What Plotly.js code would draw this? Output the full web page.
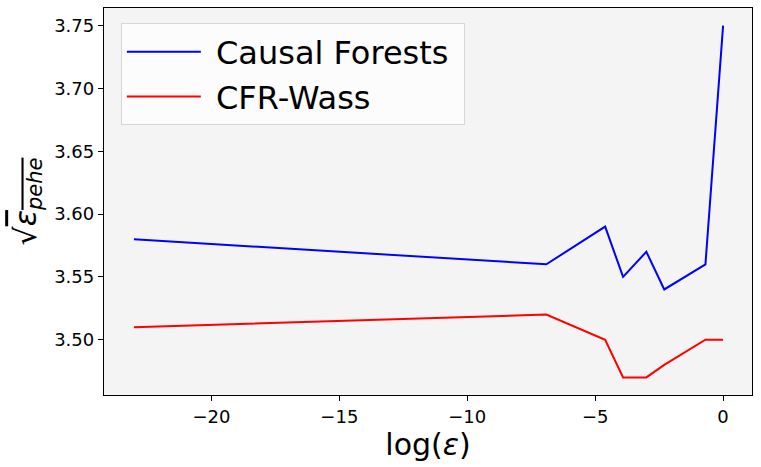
<!DOCTYPE html>
<html>
<head>
<meta charset="utf-8">
<script src="https://cdn.plot.ly/plotly-3.0.1.min.js"></script>
<style>body{margin:0;background:#fff}</style>
</head>
<body>
<div id="plot" style="width:761px;height:467px"></div>
<script>
// log(epsilon) values used in the sweep
var logEps = [-23.03, -6.91, -4.61, -3.91, -3.0, -2.30, -0.69, 0]
var causalForests = [3.58, 3.56, 3.59, 3.55, 3.57, 3.54, 3.56, 3.75]
var cfrWass = [3.51, 3.52, 3.50, 3.47, 3.47, 3.48, 3.50, 3.50]
var seriesNames = ['Causal Forests', 'CFR-Wass']

var yTicks = [3.50, 3.55, 3.60, 3.65, 3.70, 3.75]
var xTicks = [-20, -15, -10, -5, 0]

window.onload = () => {
    var font = 'DejaVu Sans, sans-serif'
    var pad = '\u00a0'
    var traces = [
        {x: logEps, y: causalForests, name: pad + seriesNames[0] + pad, mode: 'lines', line: {color: '#0000ff', width: 2}},
        {x: logEps, y: cfrWass, name: pad + seriesNames[1], mode: 'lines', line: {color: '#ff0000', width: 2}}
    ]

    var axisStyle = {
        showgrid: false, zeroline: false,
        showline: true, mirror: true, linecolor: '#000', linewidth: 1.3,
        ticks: 'outside', ticklen: 5, tickcolor: '#000',
        tickfont: {family: font, size: 18, color: '#000'}
    }

    var ov = 'text-decoration:overline;font-style:italic'
    var layout = {
        width: 761, height: 467,
        margin: {l: 104, r: 9, t: 8, b: 72},
        paper_bgcolor: '#fff',
        plot_bgcolor: '#f4f4f4',
        font: {family: font, color: '#000'},
        xaxis: Object.assign({}, axisStyle, {
            range: [-24.2, 1.13],
            tickvals: xTicks,
            title: {text: 'log(<i>ε</i>)', font: {family: font, size: 30}, standoff: 2}
        }),
        yaxis: Object.assign({}, axisStyle, {
            range: [3.456, 3.764],
            tickvals: yTicks,
            tickformat: '.2f',
            title: {
                text: '√<span style="' + ov + '">ε</span><sub><span style="' + ov + '">pehe</span></sub>',
                font: {family: font, size: 30}, standoff: 8
            }
        }),
        legend: {
            x: 0.026, y: 0.96, xanchor: 'left', yanchor: 'top',
            bgcolor: '#fcfcfc', bordercolor: '#d6d6d6', borderwidth: 1,
            font: {family: font, size: 32, color: '#000'},
            itemwidth: 74,
            tracegroupgap: 0
        },
        showlegend: true
    }

    Plotly.newPlot('plot', traces, layout, {displayModeBar: false})
}
</script>
</body>
</html>
